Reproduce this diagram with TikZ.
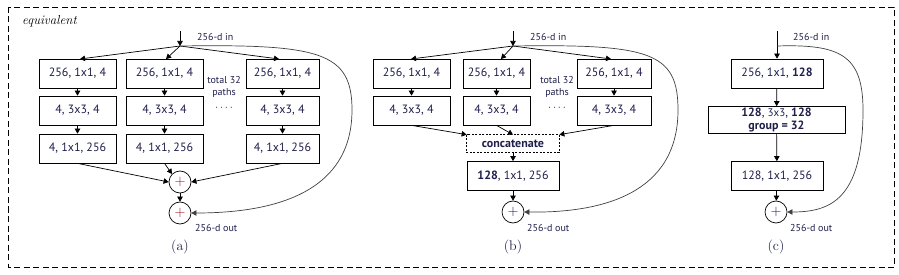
\documentclass[tikz,border=0pt]{standalone}
\usepackage{fontspec}
\setsansfont{PT Sans}
\usetikzlibrary{arrows.meta}
\definecolor{navy}{RGB}{30,30,75}
\definecolor{plusred}{RGB}{150,20,30}
\begin{document}
\begin{tikzpicture}[x=1pt,y=-1pt,
  every node/.style={font=\sffamily, text=navy},
  blk/.style={draw, line width=0.7pt, minimum width=77pt, minimum height=29pt, inner sep=0pt, font=\sffamily\fontsize{12}{13.5}\selectfont},
  sumnode/.style={draw, circle, line width=0.7pt, minimum size=22pt, inner sep=0pt, text=plusred, font=\fontsize{15}{15}\selectfont},
  lbl/.style={font=\sffamily\fontsize{10}{11}\selectfont, inner sep=0pt},
  captxt/.style={font=\rmfamily\fontsize{14}{16}\selectfont, inner sep=0pt, text=navy},
  arr/.style={line width=0.7pt, -{Triangle[length=5pt,width=5.5pt]}},
  skip/.style={line width=0.7pt, draw=black!75, -{Triangle[length=5pt,width=5.5pt]}}
]
\useasboundingbox (0,0) rectangle (899,275);
\draw[line width=0.7pt, dash pattern=on 6pt off 3.5pt] (8,7) rectangle (894,267);
\node[font=\rmfamily\itshape\fontsize{13}{15}\selectfont, text=black, anchor=west, inner sep=0pt] (eq) at (22,21) {equivalent};

% ---------- (a) ----------
\coordinate (ain) at (180,31);
\coordinate (asp) at (180,46);
\node[lbl, anchor=west] (ainl) at (197,37) {256-d in};
\node[blk] (a11) at (77.5,73.5) {256, 1x1, 4};
\node[blk] (a21) at (77.5,110.5) {4, 3x3, 4};
\node[blk] (a31) at (77.5,148.5) {4, 1x1, 256};
\node[blk] (a12) at (164.5,73.5) {256, 1x1, 4};
\node[blk] (a22) at (164.5,110.5) {4, 3x3, 4};
\node[blk] (a32) at (164.5,148.5) {4, 1x1, 256};
\node[blk, minimum width=73pt] (a13) at (282.5,73.5) {256, 1x1, 4};
\node[blk, minimum width=73pt] (a23) at (282.5,110.5) {4, 3x3, 4};
\node[blk, minimum width=73pt] (a33) at (282.5,148.5) {4, 1x1, 256};
\node[lbl, align=center, font=\sffamily\fontsize{10}{12}\selectfont] (atot) at (224,87) {total 32\\paths};
\node[lbl, font=\sffamily\bfseries\fontsize{11}{11}\selectfont] (adots) at (224,108) {$\cdot$\,$\cdot$\,$\cdot$\,$\cdot$};
\node[sumnode] (ap1) at (180,182) {$+$};
\node[sumnode] (ap2) at (180,213) {$+$};
\node[lbl, anchor=west] (aout) at (195,228) {256-d out};
\node[captxt] (acap) at (180,247) {(a)};
\draw[arr] (ain) -- (asp);
\draw[arr] (asp) -- (80,59);
\draw[arr] (asp) -- (166,59);
\draw[arr] (asp) -- (279,59);
\foreach \c in {1,2,3}{
  \draw[arr] (a1\c) -- (a2\c);
  \draw[arr] (a2\c) -- (a3\c);
}
\draw[arr] (a31.south) -- (ap1.west);
\draw[arr] (a32.south) -- (ap1.north west);
\draw[arr] (a33.south) -- (ap1.east);
\draw[arr] (ap1) -- (ap2);
\draw[skip] (asp) .. controls (320,44) and (352,52) .. (352,110) .. controls (352,195) and (270,213) .. (ap2.east);

% ---------- (b) ----------
\coordinate (bin) at (513,31);
\coordinate (bsp) at (513,46);
\node[lbl, anchor=west] (binl) at (530,37) {256-d in};
\node[blk] (b11) at (411.5,73.5) {256, 1x1, 4};
\node[blk] (b21) at (411.5,110.5) {4, 3x3, 4};
\node[blk, minimum width=67pt] (b12) at (496.5,73.5) {256, 1x1, 4};
\node[blk, minimum width=67pt] (b22) at (496.5,110.5) {4, 3x3, 4};
\node[blk, minimum width=74pt] (b13) at (614,73.5) {256, 1x1, 4};
\node[blk, minimum width=74pt] (b23) at (614,110.5) {4, 3x3, 4};
\node[lbl, align=center, font=\sffamily\fontsize{10}{12}\selectfont] (btot) at (557,87) {total 32\\paths};
\node[lbl, font=\sffamily\bfseries\fontsize{11}{11}\selectfont] (bdots) at (557,108) {$\cdot$\,$\cdot$\,$\cdot$\,$\cdot$};
\node[blk, draw=none, minimum width=92pt, minimum height=17pt, font=\sffamily\bfseries\fontsize{12}{13}\selectfont] (bcat) at (513,143.5) {concatenate};
\draw[line width=0.7pt, dash pattern=on 2pt off 1.5pt] (bcat.north west) rectangle (bcat.south east);
\node[blk, minimum width=92pt] (b3) at (513,176) {\textbf{128}, 1x1, 256};
\node[sumnode, text=navy] (bp) at (513,212) {$+$};
\node[lbl, anchor=west] (bout) at (527,228) {256-d out};
\node[captxt] (bcap) at (513,247) {(b)};
\draw[arr] (bin) -- (bsp);
\draw[arr] (bsp) -- (411,59);
\draw[arr] (bsp) -- (501,59);
\draw[arr] (bsp) -- (611,59);
\foreach \c in {1,2,3}{
  \draw[arr] (b1\c) -- (b2\c);
}
\draw[arr] (b21.south) -- (bcat.north west);
\draw[arr] (b22.south) -- (bcat.north);
\draw[arr] (b23.south) -- (bcat.north east);
\draw[arr] (bcat) -- (b3);
\draw[arr] (b3) -- (bp);
\draw[skip] (bsp) .. controls (650,44) and (678,52) .. (678,110) .. controls (678,195) and (600,213) .. (bp.east);

% ---------- (c) ----------
\coordinate (cin) at (777,31);
\coordinate (csp) at (777,46);
\node[lbl, anchor=west] (cinl) at (793,37) {256-d in};
\node[blk, minimum width=92pt] (c1) at (777,73.5) {256, 1x1, \textbf{128}};
\node[blk, minimum width=137pt, minimum height=27pt, align=center, font=\sffamily\fontsize{12}{13}\selectfont] (c2) at (776.5,120) {\textbf{128}, {\fontsize{11}{13}\selectfont 3x3}, \textbf{128}\\\textbf{group = 32}};
\node[blk, minimum width=92pt] (c3) at (777,176) {128, 1x1, 256};
\node[sumnode, text=navy] (cp) at (776,212) {$+$};
\node[lbl, anchor=west] (cout) at (790,228) {256-d out};
\node[captxt] (ccap) at (776,247) {(c)};
\draw[arr] (cin) -- (c1);
\draw[arr] (c1) -- (c2);
\draw[arr] (c2) -- (c3);
\draw[arr] (c3) -- (cp);
\draw[skip] (csp) .. controls (840,44) and (863,55) .. (863,110) .. controls (863,200) and (830,212) .. (cp.east);
\end{tikzpicture}
\end{document}
